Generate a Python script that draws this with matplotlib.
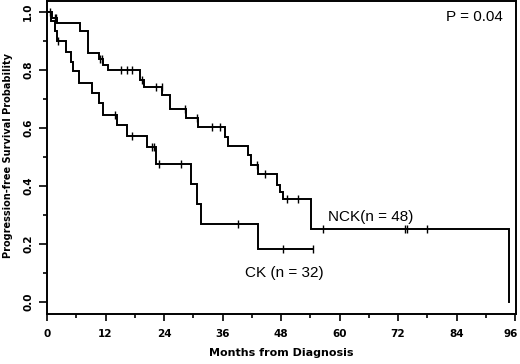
import matplotlib
matplotlib.use("Agg")
import matplotlib.pyplot as plt
import matplotlib.transforms as mtransforms
import numpy as np

# NCK group: step times (months) and survival after each step
nck_t = [0, 1.1, 2.1, 6.8, 8.5, 10.7, 11.5, 12.6, 19.1, 19.8, 23.6, 25.2, 28.5,
         31.0, 36.5, 37.2, 41.3, 41.8, 43.3, 47.1, 47.8, 48.5, 54.1, 94.8]
nck_s = [1.0, 0.979, 0.961, 0.935, 0.860, 0.837, 0.817, 0.800, 0.766, 0.742,
         0.714, 0.664, 0.633, 0.602, 0.570, 0.539, 0.507, 0.472, 0.440, 0.403,
         0.380, 0.355, 0.253, 0.0]
nck_censor = [0.6, 1.6, 1.9, 10.9, 11.2, 15.2, 16.4, 17.4, 19.4, 22.4, 23.5,
              28.4, 30.8, 33.8, 35.5, 43.0, 44.7, 49.3, 51.4, 56.6, 73.4, 73.9, 77.9]
nck_end = 94.8

# CK group
ck_t = [0, 0.9, 1.7, 2.1, 3.9, 4.9, 5.3, 6.6, 9.2, 10.7, 11.5, 14.4, 16.5,
        20.6, 22.4, 29.5, 30.7, 31.5, 43.3]
ck_s = [1.0, 0.969, 0.935, 0.900, 0.863, 0.829, 0.797, 0.756, 0.722, 0.685,
        0.645, 0.610, 0.572, 0.533, 0.476, 0.407, 0.338, 0.269, 0.182]
ck_censor = [2.3, 13.9, 17.5, 21.6, 21.9, 22.9, 27.5, 39.2, 48.5, 54.6]
ck_end = 54.6

x_ticks = [0, 12, 24, 36, 48, 60, 72, 84, 96]
y_ticks = [0.0, 0.2, 0.4, 0.6, 0.8, 1.0]

fig = plt.figure(figsize=(5.2, 3.64), dpi=100)
ax = fig.add_axes([47/520, 1-314/364, 469/520, 313/364])


def draw(t, s, cens, end):
    tt = list(t) + [end]
    ss = list(s) + [s[-1]]
    ax.step(tt, ss, where='post', color='black', lw=1.4, solid_joinstyle='miter')
    t_arr = np.array(t)
    s_arr = np.array(s)
    cs = [s_arr[np.searchsorted(t_arr, c, side='right') - 1] for c in cens]
    ax.plot(cens, cs, ls='none', marker='|', ms=6, mew=1.0, color='black')


draw(nck_t, nck_s, nck_censor, nck_end)
draw(ck_t, ck_s, ck_censor, ck_end)

ax.set_xlim(0, 96.2)
ax.set_ylim(-0.0414, 1.038)
ax.set_xticks(x_ticks)
ax.set_xticks(np.arange(6, 96, 12), minor=True)
ax.set_yticks(y_ticks)
ax.set_yticks([0.1, 0.3, 0.5, 0.7, 0.9], minor=True)
ax.set_xticklabels([str(v) for v in x_ticks], fontsize=7.5, fontweight='bold',
                   family='DejaVu Sans')
ax.set_yticklabels([f"{v:.1f}" for v in y_ticks], fontsize=7.5, fontweight='bold',
                   family='DejaVu Sans', rotation=90, va='center')
ax.tick_params(axis='x', which='major', direction='out', length=5, width=1.2, pad=6)
ax.tick_params(axis='x', which='minor', direction='out', length=3, width=1.2)
ax.tick_params(axis='y', which='major', direction='out', length=6, width=1.2, pad=4)
ax.tick_params(axis='y', which='minor', direction='out', length=3, width=1.2)
for sp in ax.spines.values():
    sp.set_linewidth(1.4)

# nudge the last x tick label so it stays inside the figure
last = ax.get_xticklabels()[-1]
last.set_transform(last.get_transform() +
                   mtransforms.ScaledTranslation(-4/100, 0, fig.dpi_scale_trans))

ax.text(93.5, 0.983, "P = 0.04", ha='right', va='center', fontsize=11,
        family='Liberation Sans')
ax.text(57.6, 0.294, "NCK(n = 48)", ha='left', va='center', fontsize=11,
        family='Liberation Sans')
ax.text(40.6, 0.10, "CK (n = 32)", ha='left', va='center', fontsize=11,
        family='Liberation Sans')

fig.text(281/520, 1-353/364, "Months from Diagnosis", ha='center', va='center',
         fontsize=8, fontweight='bold', family='DejaVu Sans')
fig.text(8/520, 1-155/364, "Progression-free Survival Probability", ha='center',
         va='center', rotation=90, fontsize=7, fontweight='bold', family='DejaVu Sans')

fig.savefig("out.png", dpi=100)
